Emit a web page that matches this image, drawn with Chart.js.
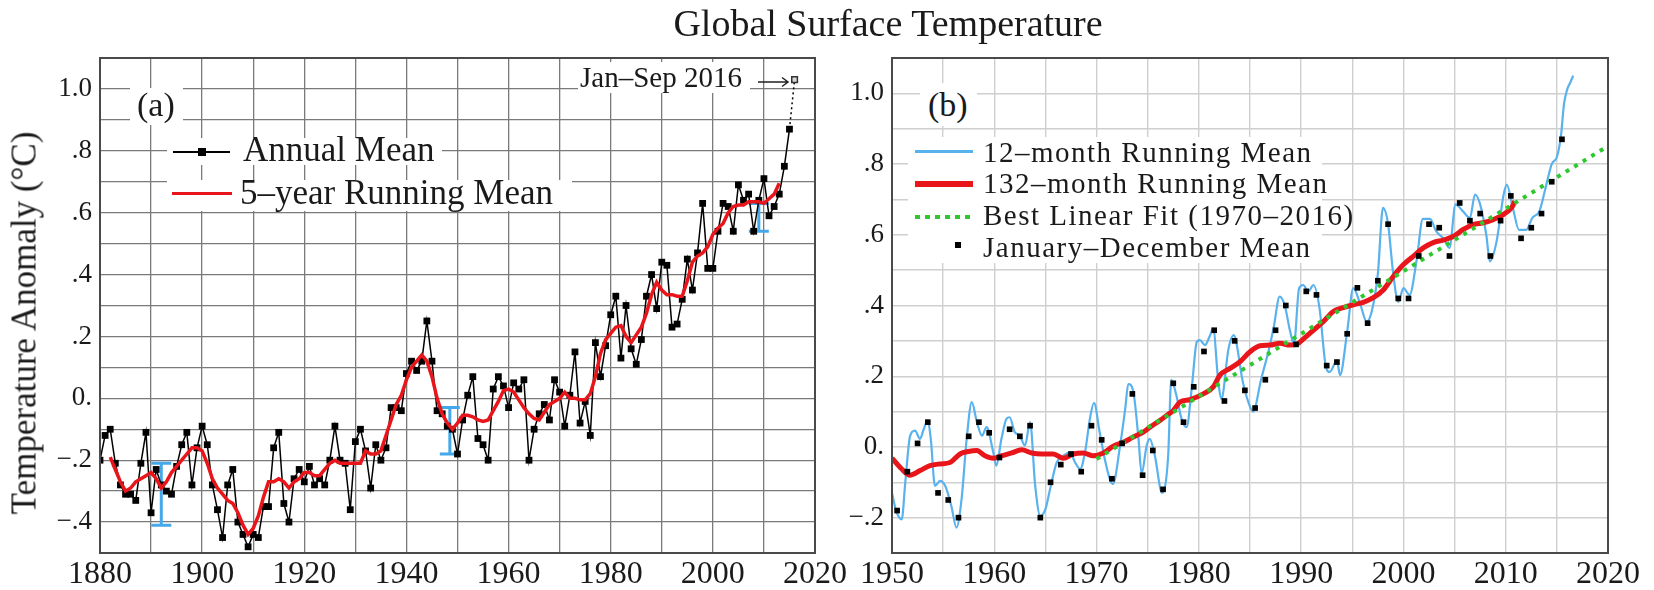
<!DOCTYPE html>
<html>
<head>
<meta charset="utf-8">
<title>Global Surface Temperature</title>
<script src="https://cdn.jsdelivr.net/npm/chart.js@4.4.1/dist/chart.umd.min.js"></script>
<style>
  html, body { margin: 0; padding: 0; background: #fff; }
  #page { position: relative; width: 1654px; height: 590px; overflow: hidden;
          font-family: "Liberation Serif", "Times New Roman", serif; color: #1a1a1a; }
  canvas { position: absolute; top: 0; }
  #chartA { left: 0; }
  #chartB { left: 830px; }
  .abs { position: absolute; white-space: nowrap; }
  .box { position: absolute; background: #fff; }
  #title { left: 888px; top: 4px; font-size: 38px; line-height: 38px; transform: translateX(-50%); }
  #ylab { left: 24px; top: 323px; font-size: 35px; line-height: 35px;
          transform: translate(-50%, -50%) rotate(-90deg); }
  .legA { font-size: 35px; line-height: 36px; }
  .legB { font-size: 29px; line-height: 31px; letter-spacing: 1.5px; }
  .tag { font-size: 34px; line-height: 34px; }
</style>
</head>
<body>
<div id="page">
  <canvas id="chartA" width="860" height="590"></canvas>
  <canvas id="chartB" width="824" height="590"></canvas>

  <div class="abs" id="title">Global Surface Temperature</div>
  <div class="abs" id="ylab">Temperature Anomaly (°C)</div>

  <!-- panel (a) labels -->
  <div class="box" style="left:130px; top:88px; width:53px; height:37px;"></div>
  <div class="abs tag" style="left:137px; top:88px;">(a)</div>

  <div class="box" style="left:167px; top:138px; width:275px; height:27px;"></div>
  <div class="box" style="left:167px; top:180px; width:405px; height:31px;"></div>
  <div class="abs" style="left:173px; top:151px; width:57px; height:2px; background:#000;"></div>
  <div class="abs" style="left:198px; top:148px; width:8px; height:8px; background:#000;"></div>
  <div class="abs legA" style="left:243px; top:132px;">Annual Mean</div>
  <div class="abs" style="left:172px; top:192px; width:60px; height:3px; background:#e8161b;"></div>
  <div class="abs legA" style="left:240px; top:175px;">5–year Running Mean</div>

  <div class="box" style="left:578px; top:62px; width:172px; height:31px;"></div>
  <div class="abs" style="left:580px; top:62px; font-size:29px; line-height:30px;">Jan–Sep 2016</div>
  <svg class="abs" style="left:755px; top:72px;" width="38" height="20">
    <path d="M3 10 H33 M27 5.5 L33 10 L27 14.5" stroke="#222" stroke-width="1.5" fill="none"/>
  </svg>

  <!-- panel (b) labels -->
  <div class="box" style="left:920px; top:83px; width:57px; height:43px;"></div>
  <div class="abs tag" style="left:928px; top:88px;">(b)</div>

  <div class="box" style="left:908px; top:137px; width:414px; height:126px;"></div>
  <div class="abs" style="left:915px; top:150px; width:58px; height:3px; background:#58b2ee;"></div>
  <div class="abs" style="left:915px; top:181px; width:58px; height:6px; background:#e8161b;"></div>
  <div class="abs" style="left:915px; top:215px; width:58px; height:4px;
       background:repeating-linear-gradient(90deg, #2ec82e 0 5px, transparent 5px 10px);"></div>
  <div class="abs" style="left:955px; top:242px; width:6px; height:6px; background:#000;"></div>
  <div class="abs legB" style="left:983px; top:137px;">12–month Running Mean</div>
  <div class="abs legB" style="left:983px; top:168px;">132–month Running Mean</div>
  <div class="abs legB" style="left:983px; top:200px;">Best Linear Fit (1970–2016)</div>
  <div class="abs legB" style="left:983px; top:232px;">January–December Mean</div>
</div>

<script>
// Annual global mean anomaly (°C), one value per year from 1880 to 2015
const annualStart = 1880;
const annualMean = [
  -0.20, -0.12, -0.10, -0.21, -0.28, -0.31, -0.31, -0.33, -0.21, -0.11,
  -0.37, -0.23, -0.28, -0.30, -0.31, -0.22, -0.15, -0.11, -0.28, -0.16,
  -0.09, -0.15, -0.28, -0.36, -0.45, -0.28, -0.23, -0.40, -0.44, -0.48,
  -0.44, -0.45, -0.35, -0.35, -0.16, -0.11, -0.34, -0.40, -0.26, -0.23,
  -0.27, -0.22, -0.28, -0.26, -0.28, -0.20, -0.09, -0.20, -0.21, -0.36,
  -0.14, -0.10, -0.17, -0.29, -0.15, -0.20, -0.16, -0.03, -0.03, -0.04,
   0.08,  0.12,  0.09,  0.12,  0.25,  0.12, -0.04, -0.05, -0.09, -0.10,
  -0.18, -0.07,  0.01,  0.07, -0.13, -0.15, -0.20,  0.03,  0.07,  0.04,
  -0.03,  0.05,  0.03,  0.06, -0.20, -0.10, -0.05, -0.02, -0.07,  0.06,
   0.02, -0.09,  0.01,  0.15, -0.08, -0.01, -0.12,  0.18,  0.07,  0.17,
   0.27,  0.33,  0.13,  0.30,  0.16,  0.11,  0.19,  0.33,  0.40,  0.29,
   0.44,  0.43,  0.23,  0.24,  0.32,  0.45,  0.35,  0.47,  0.63,  0.42,
   0.42,  0.54,  0.63,  0.62,  0.54,  0.69,  0.64,  0.66,  0.54,  0.64,
   0.71,  0.59,  0.62,  0.66,  0.75,  0.87
];
const janSep2016 = 1.03;

// 5-year running mean, centred, 1882–2013
const runStart5 = 1882;
const runMean5 = [
  -0.19, -0.23, -0.27, -0.30, -0.29, -0.27, -0.26, -0.25, -0.24, -0.26,
  -0.29, -0.27, -0.24, -0.22, -0.20, -0.18, -0.16, -0.16, -0.17, -0.21,
  -0.26, -0.29, -0.31, -0.33, -0.34, -0.37, -0.41, -0.44, -0.42, -0.38,
  -0.32, -0.27, -0.27, -0.26, -0.27, -0.29, -0.27, -0.26, -0.24, -0.24,
  -0.25, -0.25, -0.23, -0.21, -0.20, -0.21, -0.21, -0.21, -0.21, -0.21,
  -0.17, -0.18, -0.18, -0.17, -0.12, -0.07, -0.02,  0.01,  0.06,  0.10,
   0.12,  0.14,  0.12,  0.07,  0.00, -0.05, -0.08, -0.10, -0.08, -0.055,
  -0.055, -0.06, -0.07, -0.075, -0.07, -0.04, -0.01, 0.025, 0.03, 0.02,
  -0.005, -0.03, -0.05, -0.065, -0.07, -0.045, -0.02, -0.01, 0.00, 0.02,
   0.00,  0.00, -0.005, -0.005, 0.015, 0.07, 0.145, 0.19, 0.21, 0.23,
   0.235, 0.20, 0.18, 0.205, 0.23, 0.275, 0.335, 0.375, 0.35, 0.335,
   0.335, 0.33, 0.33, 0.38, 0.44, 0.46, 0.47, 0.49, 0.53, 0.55,
   0.565, 0.60, 0.62, 0.625, 0.625, 0.635, 0.635, 0.635, 0.63, 0.645,
   0.66, 0.695
];

// uncertainty bars on panel (a)
const errYears = [1892, 1948.5, 2009];
const errLow = [-0.41, -0.18, 0.54];
const errHigh = [-0.21, -0.03, 0.63];

// 12-month running mean (decimal year, °C)
const mon12T = [
  1950.0, 1950.4, 1950.95, 1951.3, 1951.76, 1952.25, 1952.74, 1953.1, 1953.5, 1953.8,
  1954.2, 1954.7, 1955.2, 1955.8, 1956.3, 1956.8, 1957.3, 1957.8, 1958.3, 1958.8,
  1959.25, 1959.9, 1960.2, 1960.7, 1961.2, 1961.5, 1962.0, 1962.5, 1963.0, 1963.5,
  1964.0, 1964.5, 1965.0, 1965.45, 1966.1, 1966.75, 1967.4, 1967.9, 1968.4, 1968.9,
  1969.35, 1969.75, 1970.3, 1970.8, 1971.3, 1971.6, 1972.3, 1972.8, 1973.1, 1973.6,
  1974.1, 1974.4, 1974.9, 1975.2, 1975.7, 1976.4, 1977.0, 1977.3, 1977.8, 1978.3,
  1978.8, 1979.3, 1979.8, 1980.1, 1980.6, 1981.1, 1981.4, 1981.9, 1982.2, 1982.9,
  1983.4, 1984.3, 1984.8, 1985.3, 1986.1, 1986.8, 1987.3, 1987.9, 1988.4, 1988.9,
  1989.3, 1989.8, 1990.2, 1990.7, 1991.2, 1991.8, 1992.4, 1992.8, 1993.5, 1993.8,
  1994.5, 1995.1, 1995.8, 1996.4, 1996.9, 1997.5, 1998.0, 1998.5, 1999.0, 1999.5,
  2000.0, 2000.6, 2001.3, 2001.9, 2002.6, 2003.2, 2003.9, 2004.5, 2005.1, 2005.8,
  2006.5, 2007.0, 2007.5, 2008.1, 2008.45, 2009.1, 2009.8, 2010.1, 2010.7, 2011.3,
  2012.0, 2012.6, 2013.3, 2013.9, 2014.5, 2015.0, 2015.4, 2015.7, 2016.0, 2016.3,
  2016.6
];
const mon12V = [
  -0.13, -0.18, -0.205, -0.10, 0.03, 0.046, 0.023, 0.05, 0.075, 0.02,
  -0.11, -0.096, -0.11, -0.167, -0.228, -0.148, 0.023, 0.127, 0.07, 0.032,
  0.056, -0.015, -0.053, 0.023, 0.08, 0.084, 0.042, 0.032, 0.004, 0.07,
  -0.11, -0.195, -0.176, -0.12, -0.044, -0.025, -0.015, -0.044, -0.0625, -0.01,
  0.08, 0.125, 0.042, -0.034, -0.091, -0.105, 0.004, 0.108, 0.178, 0.155,
  0.023, -0.075, 0.004, 0.023, -0.025, -0.13, -0.025, 0.19, 0.146, 0.08,
  0.056, 0.165, 0.297, 0.302, 0.288, 0.316, 0.335, 0.184, 0.136, 0.278,
  0.316, 0.184, 0.13, 0.10, 0.193, 0.27, 0.335, 0.425, 0.40, 0.33,
  0.29, 0.449, 0.458, 0.44, 0.458, 0.392, 0.23, 0.212, 0.245, 0.203,
  0.326, 0.449, 0.402, 0.354, 0.383, 0.49, 0.676, 0.63, 0.49, 0.41,
  0.449, 0.43, 0.53, 0.645, 0.645, 0.61, 0.59, 0.563, 0.686, 0.667,
  0.648, 0.714, 0.686, 0.60, 0.525, 0.58, 0.714, 0.742, 0.676, 0.614,
  0.614, 0.648, 0.667, 0.733, 0.80, 0.82, 0.88, 0.97, 1.01, 1.03,
  1.05
];

// 132-month running mean (decimal year, °C)
const mon132T = [
  1950.0, 1950.95, 1951.76, 1952.74, 1953.71, 1954.69, 1955.67, 1956.65, 1957.46, 1958.28,
  1959.09, 1959.9, 1960.72, 1961.7, 1962.68, 1963.66, 1964.63, 1965.77, 1966.75, 1967.72,
  1968.7, 1969.68, 1970.66, 1971.63, 1972.61, 1973.59, 1974.57, 1975.22, 1976.2, 1976.85,
  1977.5, 1978.15, 1979.13, 1980.43, 1981.41, 1982.06, 1983.04, 1984.02, 1985.0, 1985.97,
  1986.95, 1987.93, 1988.9, 1989.56, 1990.2, 1991.19, 1992.16, 1993.14, 1994.12, 1995.1,
  1996.07, 1997.05, 1998.03, 1999.0, 1999.98, 2000.96, 2001.94, 2002.91, 2003.89, 2004.87,
  2005.85, 2006.8, 2007.8, 2008.78, 2009.76, 2010.6, 2010.9
];
const mon132V = [
  -0.032, -0.0625, -0.080, -0.067, -0.053, -0.048, -0.044, -0.020, -0.013, -0.010,
  -0.025, -0.032, -0.025, -0.017, -0.008, -0.017, -0.020, -0.020, -0.032, -0.020,
  -0.017, -0.025, -0.017, 0.002, 0.013, 0.028, 0.042, 0.056, 0.075, 0.089,
  0.103, 0.127, 0.134, 0.150, 0.170, 0.203, 0.222, 0.241, 0.269, 0.286,
  0.288, 0.293, 0.288, 0.290, 0.305, 0.330, 0.354, 0.383, 0.394, 0.402,
  0.409, 0.422, 0.444, 0.482, 0.515, 0.539, 0.563, 0.578, 0.585, 0.595,
  0.615, 0.629, 0.634, 0.643, 0.657, 0.678, 0.695
];

// least-squares trend 1970–2016, drawn out to 2020
const fitYears = [1970, 2020];
const fitVals = [-0.034, 0.851];

// axis labels
const xTicksA = [1880, 1900, 1920, 1940, 1960, 1980, 2000, 2020];
const xTicksB = [1950, 1960, 1970, 1980, 1990, 2000, 2010, 2020];
const yTicksA = [-0.4, -0.2, 0, 0.2, 0.4, 0.6, 0.8, 1.0];
const yTextA = ['−.4', '−.2', '0.', '.2', '.4', '.6', '.8', '1.0'];
const yTicksB = [-0.2, 0, 0.2, 0.4, 0.6, 0.8, 1.0];
const yTextB = ['−.2', '0.', '.2', '.4', '.6', '.8', '1.0'];

const BLACK = '#000000';
const RED = '#e8161b';
const SKY = '#58b2ee';
const ERR_BLUE = '#45a8ea';
const GREEN = '#2ec82e';
const INK = '#1a1a1a';

Chart.defaults.font.family = '"Liberation Serif", "Times New Roman", serif';
Chart.defaults.color = INK;

function pickLabel(vals, texts) {
  return (v) => {
    const i = vals.findIndex((t) => Math.abs(t - v) < 1e-6);
    return i >= 0 ? texts[i] : '';
  };
}

function xyPairs(xs, ys) {
  return xs.map((x, i) => ({ x: x, y: ys[i] }));
}

const framePlugin = {
  id: 'frame',
  afterDraw(chart, args, opts) {
    const { ctx, chartArea: a } = chart;
    ctx.save();
    ctx.strokeStyle = opts.color;
    ctx.lineWidth = opts.width;
    ctx.strokeRect(a.left, a.top, a.right - a.left, a.bottom - a.top);
    ctx.restore();
  }
};

const errorBarPlugin = {
  id: 'errorBars',
  beforeDatasetsDraw(chart) {
    const { ctx, scales: { x, y } } = chart;
    const cap = 10;
    ctx.save();
    ctx.strokeStyle = ERR_BLUE;
    ctx.lineWidth = 3;
    errYears.forEach((yr, i) => {
      const px = x.getPixelForValue(yr);
      const lo = y.getPixelForValue(errLow[i]);
      const hi = y.getPixelForValue(errHigh[i]);
      ctx.beginPath();
      ctx.moveTo(px, lo); ctx.lineTo(px, hi);
      ctx.moveTo(px - cap, lo); ctx.lineTo(px + cap, lo);
      ctx.moveTo(px - cap, hi); ctx.lineTo(px + cap, hi);
      ctx.stroke();
    });
    ctx.restore();
  }
};

function axes(o) {
  return {
    x: {
      type: 'linear', min: o.xMin, max: o.xMax,
      afterFit: (s) => { s.height = 37; },
      border: { display: false },
      grid: { color: o.grid, lineWidth: o.gridWidth, drawTicks: false },
      ticks: {
        stepSize: o.xStep, autoSkip: false, maxRotation: 0, padding: 2,
        font: { size: 32 }, color: INK,
        callback: (v) => (o.xLabels.includes(Math.round(v)) ? String(Math.round(v)) : '')
      }
    },
    y: {
      type: 'linear', min: o.yMin, max: 1.1,
      afterFit: (s) => { s.width = o.yWidth; },
      border: { display: false },
      grid: { color: o.grid, lineWidth: o.gridWidth, drawTicks: false },
      ticks: {
        stepSize: 0.1, autoSkip: false, padding: 8,
        font: { size: 27 }, color: INK,
        callback: pickLabel(o.yVals, o.yTexts)
      }
    }
  };
}

const years = annualMean.map((_, i) => annualStart + i);
const runYears = runMean5.map((_, i) => runStart5 + i);
const lastYear = years[years.length - 1];

// (a) annual mean with 5-year running mean
new Chart(document.getElementById('chartA'), {
  type: 'line',
  data: {
    datasets: [
      {
        label: '5-year Running Mean',
        data: xyPairs(runYears, runMean5),
        borderColor: RED, borderWidth: 3.5, pointRadius: 0, order: 0
      },
      {
        label: 'Annual Mean',
        data: xyPairs(years, annualMean),
        borderColor: BLACK, borderWidth: 1.5,
        pointStyle: 'rect', pointRadius: 4.8,
        pointBackgroundColor: BLACK, pointBorderColor: BLACK, pointBorderWidth: 0,
        order: 1
      },
      {
        label: 'Jan–Sep 2016',
        data: [{ x: lastYear, y: annualMean[annualMean.length - 1] }, { x: 2016, y: janSep2016 }],
        borderColor: BLACK, borderWidth: 1.5, borderDash: [2, 3],
        pointStyle: 'rect', pointRadius: [0, 4],
        pointBackgroundColor: '#d8d8d8', pointBorderColor: '#333', pointBorderWidth: 1.5,
        order: 2
      }
    ]
  },
  options: {
    responsive: false, animation: false,
    layout: { padding: { left: 0, right: 45, top: 58, bottom: 0 } },
    plugins: {
      legend: { display: false }, tooltip: { enabled: false },
      frame: { color: '#4a4a4a', width: 2 }
    },
    scales: axes({
      xMin: 1880, xMax: 2020, xStep: 10, xLabels: xTicksA,
      yMin: -0.5, yVals: yTicksA, yTexts: yTextA, yWidth: 100,
      grid: '#7a7a7a', gridWidth: 1.3
    })
  },
  plugins: [errorBarPlugin, framePlugin]
});

// (b) monthly running means since 1950
new Chart(document.getElementById('chartB'), {
  type: 'line',
  data: {
    datasets: [
      {
        label: 'January–December Mean',
        data: xyPairs(years.slice(70).map((y) => y + 0.5), annualMean.slice(70)),
        showLine: false, pointStyle: 'rect', pointRadius: 4,
        pointBackgroundColor: BLACK, pointBorderWidth: 0, order: 0
      },
      {
        label: 'Best Linear Fit (1970–2016)',
        data: xyPairs(fitYears, fitVals),
        borderColor: GREEN, borderWidth: 4, borderDash: [4, 6], pointRadius: 0, order: 1
      },
      {
        label: '132-month Running Mean',
        data: xyPairs(mon132T, mon132V),
        borderColor: RED, borderWidth: 5, pointRadius: 0,
        cubicInterpolationMode: 'monotone', order: 2
      },
      {
        label: '12-month Running Mean',
        data: xyPairs(mon12T, mon12V),
        borderColor: SKY, borderWidth: 2.2, pointRadius: 0,
        cubicInterpolationMode: 'monotone', order: 3
      }
    ]
  },
  options: {
    responsive: false, animation: false,
    layout: { padding: { left: 0, right: 46, top: 58, bottom: 0 } },
    plugins: {
      legend: { display: false }, tooltip: { enabled: false },
      frame: { color: '#4a4a4a', width: 2 }
    },
    scales: axes({
      xMin: 1950, xMax: 2020, xStep: 5, xLabels: xTicksB,
      yMin: -0.3, yVals: yTicksB, yTexts: yTextB, yWidth: 62,
      grid: '#cfcfcf', gridWidth: 1.4
    })
  },
  plugins: [framePlugin]
});
</script>
</body>
</html>
